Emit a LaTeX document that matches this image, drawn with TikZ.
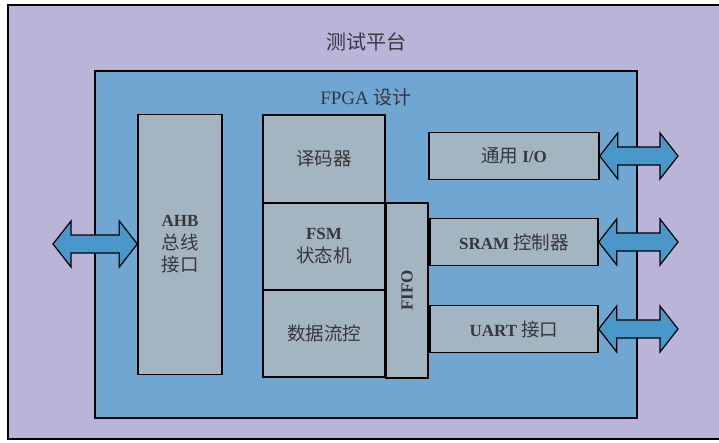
\documentclass[tikz,border=0pt]{standalone}
\usepackage{fontspec}
\setmainfont{Liberation Serif}
\newfontfamily\cjk{Noto Sans CJK SC}
\usetikzlibrary{calc}
\definecolor{outerc}{RGB}{186,181,216}
\definecolor{innerc}{RGB}{112,166,210}
\definecolor{boxc}{RGB}{163,181,192}
\definecolor{arrc}{RGB}{74,152,202}
\definecolor{txtc}{RGB}{55,55,60}
\newcommand{\dblarr}[2]{%
  \path[dbl] let \p1=(#1), \p2=(#2) in
    (\x1,\y1) -- (\x1+18pt,\y1+23pt) -- (\x1+18pt,\y1+9pt) -- (\x2-18pt,\y1+9pt)
    -- (\x2-18pt,\y1+23pt) -- (\x2,\y1) -- (\x2-18pt,\y1-23pt) -- (\x2-18pt,\y1-9pt)
    -- (\x1+18pt,\y1-9pt) -- (\x1+18pt,\y1-23pt) -- cycle;}
\newcommand{\zh}[1]{{\cjk\mdseries\fontsize{18.5}{22}\selectfont #1}}
\begin{document}
\begin{tikzpicture}[x=1pt,y=-1pt,
  blk/.style={draw=black,line width=1.4pt,fill=boxc,text=txtc,font=\fontsize{17}{22}\selectfont\bfseries,align=center},
  dbl/.style={draw=black,line width=1.2pt,fill=arrc,line join=miter}]
\useasboundingbox (0,0) rectangle (719,442);
\fill[white] (0,0) rectangle (719,442);
\begin{scope}
\clip (0,0) rectangle (719,442);
\draw[fill=outerc,line width=1.6pt] (8,5) rectangle (725,439);
\end{scope}
\node[text=txtc,font=\cjk\fontsize{20}{22}\selectfont] (title) at (366,42) {测试平台};
\draw[fill=innerc,line width=1.4pt] (95,71) rectangle (637,418);
\node[text=txtc,font=\fontsize{19}{22}\selectfont] (fpga) at (366,97) {FPGA {\cjk 设计}};
% blocks
\node[blk,minimum width=84pt,minimum height=260pt] (ahb) at (180,244.5) {AHB\\[1pt]\zh{总线}\\\zh{接口}};
\node[blk,minimum width=122pt,minimum height=88pt] (dec) at (324,159) {\zh{译码器}};
\node[blk,minimum width=122pt,minimum height=87pt] (fsm) at (324,246.5) {FSM\\[1pt]\zh{状态机}};
\node[blk,minimum width=122pt,minimum height=87pt] (dfc) at (324,333.5) {\zh{数据流控}};
\node[blk,minimum width=42pt,minimum height=175pt] (fifo) at (407,290.5) {};
\node[text=txtc,font=\fontsize{17}{20}\selectfont\bfseries,rotate=90] (fifot) at (fifo.center) {FIFO};
\node[blk,minimum width=170pt,minimum height=47pt] (gio) at (514,156) {\zh{通用} I/O};
\node[blk,minimum width=168pt,minimum height=47pt] (sram) at (514,242) {SRAM \zh{控制器}};
\node[blk,minimum width=168pt,minimum height=47pt] (uart) at (514,329) {UART \zh{接口}};
% outside ends
\coordinate (lend) at (53,244);
\coordinate (r1) at (678,156);
\coordinate (r2) at (678,242);
\coordinate (r3) at (678,329);
\dblarr{lend}{ahb.west |- lend}
\dblarr{gio.east}{r1}
\dblarr{sram.east}{r2}
\dblarr{uart.east}{r3}
\end{tikzpicture}
\end{document}
